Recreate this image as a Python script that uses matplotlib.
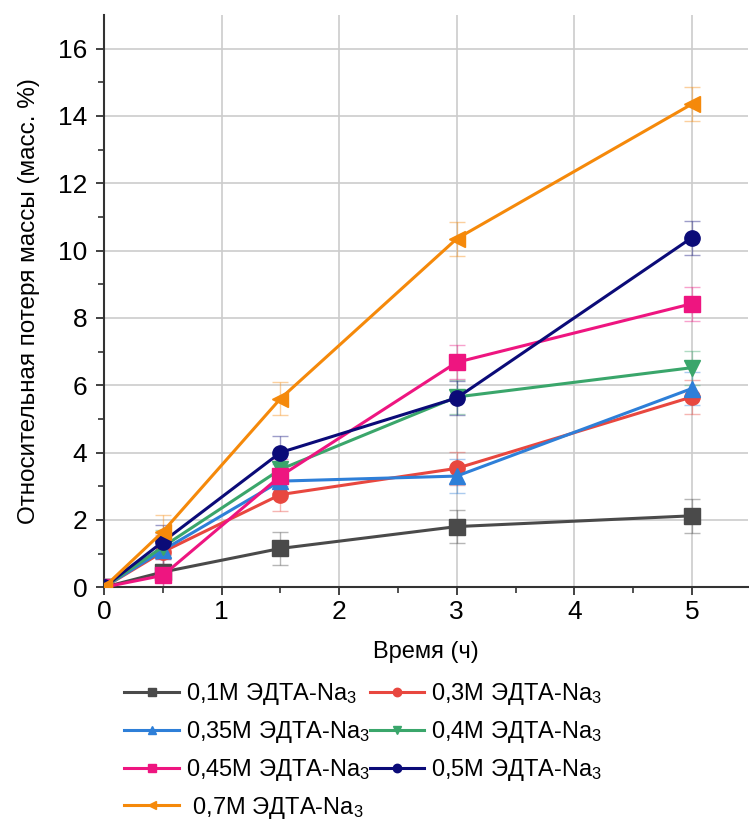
import numpy as np
import matplotlib.pyplot as plt

plt.rcParams['font.family'] = ['Liberation Sans', 'DejaVu Sans']
plt.rcParams['mathtext.default'] = 'regular'

# time points, h
t = [0, 0.5, 1.5, 3, 5]

# mass loss, wt. %
c01  = [0, 0.45, 1.15, 1.80, 2.12]
c03  = [0, 1.05, 2.75, 3.53, 5.65]
c035 = [0, 1.10, 3.15, 3.30, 5.90]
c04  = [0, 1.20, 3.50, 5.65, 6.52]
c045 = [0, 0.35, 3.30, 6.68, 8.42]
c05  = [0, 1.35, 4.00, 5.62, 10.38]
c07  = [0, 1.65, 5.60, 10.35, 14.35]
err  = [0, 0.5, 0.5, 0.5, 0.5]

labels = ['0,1M ЭДТА-Na$_3$', '0,3M ЭДТА-Na$_3$', '0,35M ЭДТА-Na$_3$', '0,4M ЭДТА-Na$_3$',
          '0,45M ЭДТА-Na$_3$', '0,5M ЭДТА-Na$_3$', ' 0,7M ЭДТА-Na$_3$']
series  = [c01, c03, c035, c04, c045, c05, c07]
colors  = ['#4a4a4a', '#e8473f', '#2e7fd8', '#3aa66b', '#ee1580', '#0b0b78', '#f5890a']
markers = ['s', 'o', '^', 'v', 's', 'o', '<']

fig = plt.figure(figsize=(7.49, 8.27), dpi=100)
ax = fig.add_axes([0.139, 0.29, 0.86, 0.692])

handles = []
for y, c, m, lab in zip(series, colors, markers, labels):
    ax.errorbar(t, y, yerr=err, fmt='none', ecolor=c, alpha=0.4, capsize=6, elinewidth=1, zorder=2)
    h, = ax.plot(t, y, color=c, marker=m, markersize=11, lw=2.2, label=lab, zorder=3)
    handles.append(h)

ax.set_xlim(0, 5.48)
ax.set_ylim(0, 17)
ax.set_xticks([0, 1, 2, 3, 4, 5])
ax.set_xticks(np.arange(0.5, 5.5, 1), minor=True)
ax.set_yticks(np.arange(0, 17, 2))
ax.set_yticks(np.arange(1, 17, 2), minor=True)
ax.grid(True, which='major', color='#cccccc', lw=1.2)
ax.set_axisbelow(True)
for s in ['top', 'right']:
    ax.spines[s].set_visible(False)
for s in ['left', 'bottom']:
    ax.spines[s].set_linewidth(1.5)
    ax.spines[s].set_color('#333333')
ax.tick_params(which='major', length=6, width=1.3, labelsize=19, color='#333333')
ax.tick_params(axis='y', which='major', pad=6)
ax.tick_params(which='minor', length=4, width=1.2, color='#333333')
ax.set_xlabel('Время (ч)', fontsize=17, labelpad=12)
ax.set_ylabel('Относительная потеря массы (масс. %)', fontsize=17.5, labelpad=13)

order = [0, 2, 4, 6, 1, 3, 5]
fig.legend([handles[i] for i in order], [labels[i] for i in order], ncol=2, frameon=False,
           loc='upper center', bbox_to_anchor=(0.485, 0.202), fontsize=17, markerscale=0.55,
           handlelength=2.3, handletextpad=0.3, columnspacing=0.0, labelspacing=0.5)

fig.savefig('out.png', dpi=100)
